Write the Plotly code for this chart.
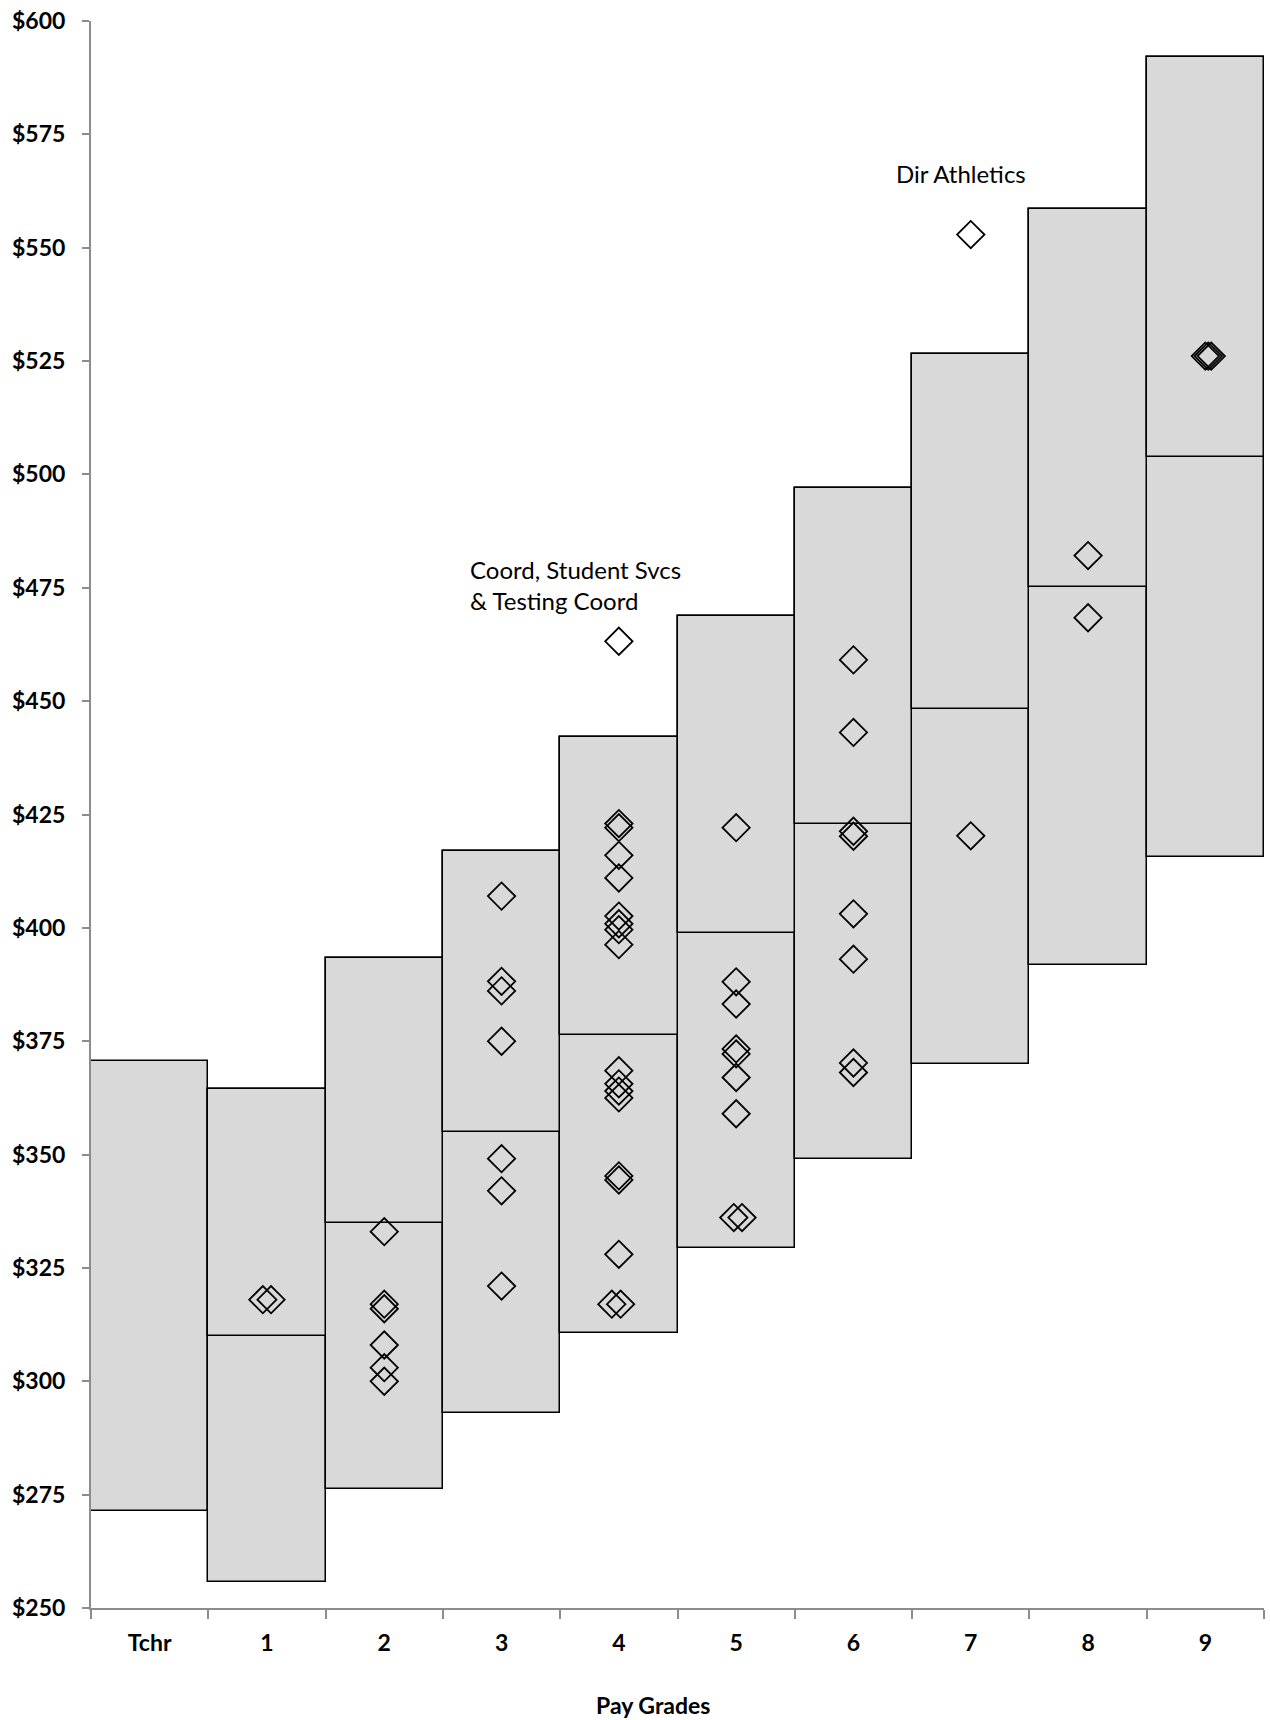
import plotly.graph_objects as go

# Pay grade ranges (weekly pay, $)
grades = ["Tchr", "1", "2", "3", "4", "5", "6", "7", "8", "9"]
range_min = [271.3, 255.7, 276.3, 293.0, 310.6, 329.4, 349.0, 370.0, 391.9, 415.6]
range_mid = [None, 310.0, 334.8, 354.9, 376.4, 398.9, 422.9, 448.2, 475.1, 503.8]
range_max = [370.7, 364.4, 393.4, 417.0, 442.1, 468.7, 496.9, 526.6, 558.5, 592.0]

# Individual employees: grade position (0 = Tchr, 1..9) and pay
emp_x = [
    0.965, 1.035,
    2, 2, 2, 2, 2, 2,
    3, 3, 3, 3, 3, 3, 3,
    4, 4, 4, 4, 4, 4, 4, 4, 4, 4, 4, 4, 4, 4, 4, 4, 3.94, 4.015,
    5, 5, 5, 5, 5, 5, 5, 4.98, 5.05,
    6, 6, 6, 6, 6, 6, 6, 6,
    7, 7,
    8, 8,
    9, 9.025, 9.05,
]
emp_pay = [
    318.0, 318.0,
    333.0, 317.0, 316.0, 308.0, 303.0, 300.0,
    407.0, 388.2, 386.1, 375.0, 349.1, 342.0, 321.0,
    463.2, 423.0, 422.1, 416.0, 411.0, 402.6, 400.9, 399.6, 396.3,
    368.5, 365.6, 364.0, 362.5, 345.3, 344.4, 328.0, 317.0, 317.0,
    422.1, 388.1, 383.2, 373.3, 372.2, 367.0, 359.0, 336.1, 336.1,
    459.1, 443.1, 421.3, 420.2, 403.1, 393.1, 370.2, 368.1,
    552.9, 420.3,
    482.1, 468.4,
    526.1, 526.1, 526.1,
]

y_ticks = [250, 275, 300, 325, 350, 375, 400, 425, 450, 475, 500, 525, 550, 575, 600]
y_tick_text = ["$" + str(v) for v in y_ticks]

BOX_FILL = "#d9d9d9"
AXIS_GREY = "#8c8c8c"

fig = go.Figure()

# Full range box for each grade
fig.add_trace(go.Bar(
    x=grades,
    base=range_min,
    y=[hi - lo for lo, hi in zip(range_min, range_max)],
    width=1,
    marker=dict(color=BOX_FILL, line=dict(color="black", width=1.5)),
    hoverinfo="skip",
    showlegend=False,
))

# Upper half box, whose lower edge marks the range midpoint
fig.add_trace(go.Bar(
    x=grades,
    base=range_mid,
    y=[None if m is None else hi - m for m, hi in zip(range_mid, range_max)],
    width=1,
    marker=dict(color=BOX_FILL, line=dict(color="black", width=1.5)),
    hoverinfo="skip",
    showlegend=False,
))

# Employees as open diamonds
fig.add_trace(go.Scatter(
    x=emp_x,
    y=emp_pay,
    xaxis="x2",
    mode="markers",
    marker=dict(symbol="diamond-open", size=21, color="black",
                line=dict(color="black", width=1.8)),
    showlegend=False,
))

label_font = dict(family="Lato", size=24, color="black")

fig.add_annotation(
    x=2.71, y=475.7, xref="x2", yref="y",
    text="Coord, Student Svcs<br>& Testing Coord",
    showarrow=False, xanchor="left", yanchor="middle", align="left",
    font=label_font,
)
fig.add_annotation(
    x=6.913, y=566.3, xref="x2", yref="y",
    text="Dir Athletics",
    showarrow=False, xanchor="center", yanchor="middle",
    font=label_font,
)
fig.add_annotation(
    x=0.479, y=-0.061, xref="paper", yref="paper",
    text="<b>Pay Grades</b>",
    showarrow=False, xanchor="center", yanchor="middle",
    font=dict(family="Lato", size=23, color="black"),
)

tick_font = dict(family="Lato", size=23, color="black", weight="bold")

fig.update_layout(
    width=1270,
    height=1720,
    margin=dict(l=91, r=6, t=18, b=112),
    paper_bgcolor="white",
    plot_bgcolor="white",
    barmode="overlay",
    bargap=0,
    xaxis=dict(
        type="category",
        range=[-0.5, 9.5],
        tickson="boundaries",
        ticks="outside",
        ticklen=9,
        tickwidth=1.5,
        tickcolor=AXIS_GREY,
        showline=True,
        linecolor=AXIS_GREY,
        linewidth=2,
        showgrid=False,
        zeroline=False,
        tickfont=tick_font,
        ticklabelstandoff=13,
    ),
    xaxis2=dict(
        overlaying="x",
        range=[-0.5, 9.5],
        visible=False,
    ),
    yaxis=dict(
        range=[250, 600],
        tickmode="array",
        tickvals=y_ticks,
        ticktext=y_tick_text,
        ticks="outside",
        ticklen=7,
        tickwidth=1.5,
        tickcolor=AXIS_GREY,
        showline=True,
        linecolor=AXIS_GREY,
        linewidth=2,
        showgrid=False,
        zeroline=False,
        tickfont=tick_font,
        ticklabelstandoff=12,
    ),
)

fig.write_html("out.html")
